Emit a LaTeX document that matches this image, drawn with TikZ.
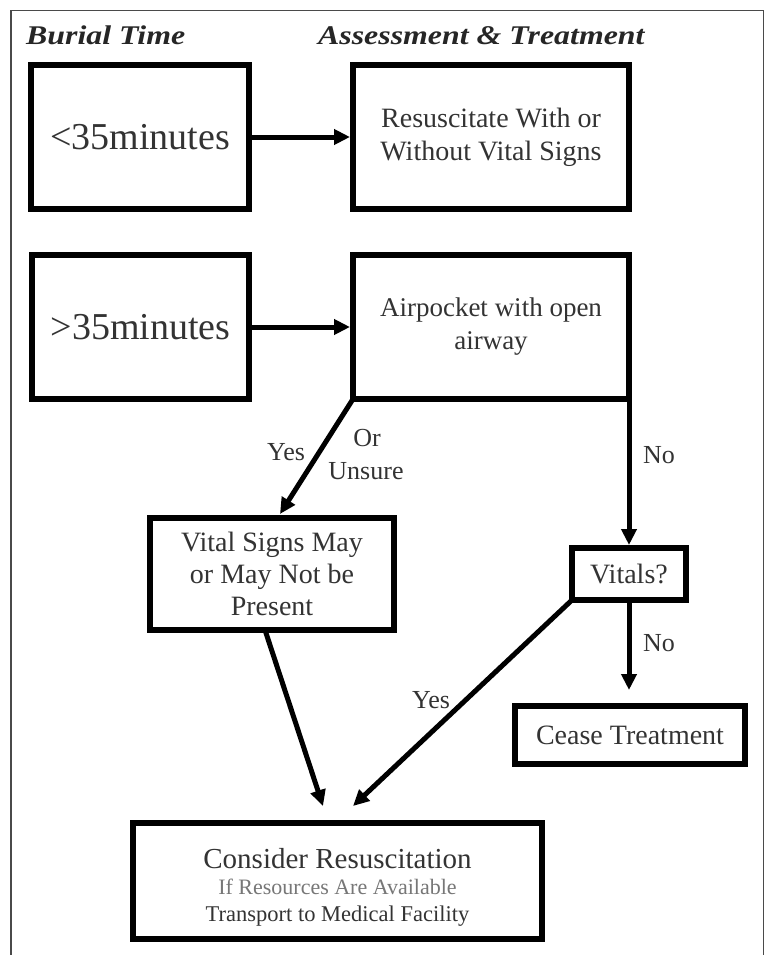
\documentclass[tikz,border=0pt]{standalone}
\usepackage{fontspec}
\setmainfont{Liberation Serif}
\usetikzlibrary{arrows.meta,calc}
\definecolor{txt}{HTML}{333333}
\definecolor{lite}{HTML}{777777}
\definecolor{frame}{HTML}{4A4A4A}
\begin{document}
\begin{tikzpicture}[x=1pt,y=-1pt,
  box/.style={draw=black,line width=6pt,minimum width=#1,inner sep=0pt,align=center,text=txt,font=\fontsize{27}{32}\selectfont},
  conn/.style={line width=5pt,-{Triangle[length=16pt,width=15pt]}},
  lbl/.style={text=txt,font=\fontsize{26}{30}\selectfont,inner sep=0pt},
  hdr/.style={text=black!85,inner sep=0pt,font=\fontsize{27}{30}\selectfont\bfseries\itshape}]
\useasboundingbox (0,0) rectangle (768,955);
\fill[white] (0,0) rectangle (768,955);
\draw[frame,line width=1.8pt] (11,955) -- (11,10.5) -- (763.5,10.5) -- (763.5,955);
% headers
\node[hdr,anchor=base west] (h1) at (26,45) {\scalebox{1.18}[1]{Burial Time}};
\node[hdr,anchor=base west] (h2) at (318,45) {\scalebox{1.18}[1]{Assessment \& Treatment}};
% boxes
\node[box=218pt,minimum height=144pt,font=\fontsize{38}{42}\selectfont] (b1) at (140,137) {<35minutes};
\node[box=276pt,minimum height=144pt,font=\fontsize{28}{33}\selectfont] (b2) at (491,137) {Resuscitate With or\\Without Vital Signs};
\node[box=217pt,minimum height=144pt,font=\fontsize{38}{42}\selectfont] (b3) at (140.5,327) {>35minutes};
\node[box=276pt,minimum height=144pt,font=\fontsize{27}{33}\selectfont] (b4) at (491,327) {Airpocket with open\\airway};
\node[box=244pt,minimum height=112pt,font=\fontsize{28}{32}\selectfont] (b5) at (272,574) {Vital Signs May\\or May Not be\\Present};
\node[box=114pt,minimum height=52pt,font=\fontsize{28}{32}\selectfont] (vit) at (629,574) {Vitals?};
\node[box=230pt,minimum height=58pt,font=\fontsize{28}{32}\selectfont] (cease) at (630,735) {Cease Treatment};
\node[box=409pt,minimum height=116pt,font=\fontsize{29}{27}\selectfont] (cons) at (337.5,881)
  {\rule{0pt}{32pt}Consider Resuscitation\\[-1pt]
   {\color{lite}\fontsize{22}{26}\selectfont If Resources Are Available}\\
   {\fontsize{22.5}{26}\selectfont Transport to Medical Facility}};
\path[use as bounding box] (0,0) rectangle (768,955);
% coordinates
\coordinate (s4a) at ($(b4.south west)+(3,-3)$);
\coordinate (s4b) at ($(b4.south east)+(-3,-3)$);
\coordinate (t5) at (280,514);
\coordinate (s5) at (265,630);
\coordinate (sv) at ($(vit.south west)+(3,-3)$);
\coordinate (tc) at (629,690);
\coordinate (c1) at (323,806);
\coordinate (c2) at (353,806);
% connectors
\draw[conn] (b1) -- (b2);
\draw[conn] (b3) -- (b4);
\draw[conn] (s4a) -- (t5);
\draw[conn] (s4b) -- (vit.north);
\draw[conn] (vit.south) -- (tc);
\draw[conn] (s5) -- (c1);
\draw[conn] (sv) -- (c2);
% labels
\node[lbl] (ly1) at (286,452) {Yes};
\node[lbl] (lor) at (367,438) {Or};
\node[lbl] (lun) at (366,471) {Unsure};
\node[lbl] (ln1) at (659,455) {No};
\node[lbl] (ln2) at (659,643) {No};
\node[lbl] (ly2) at (431,700) {Yes};
\end{tikzpicture}
\end{document}
